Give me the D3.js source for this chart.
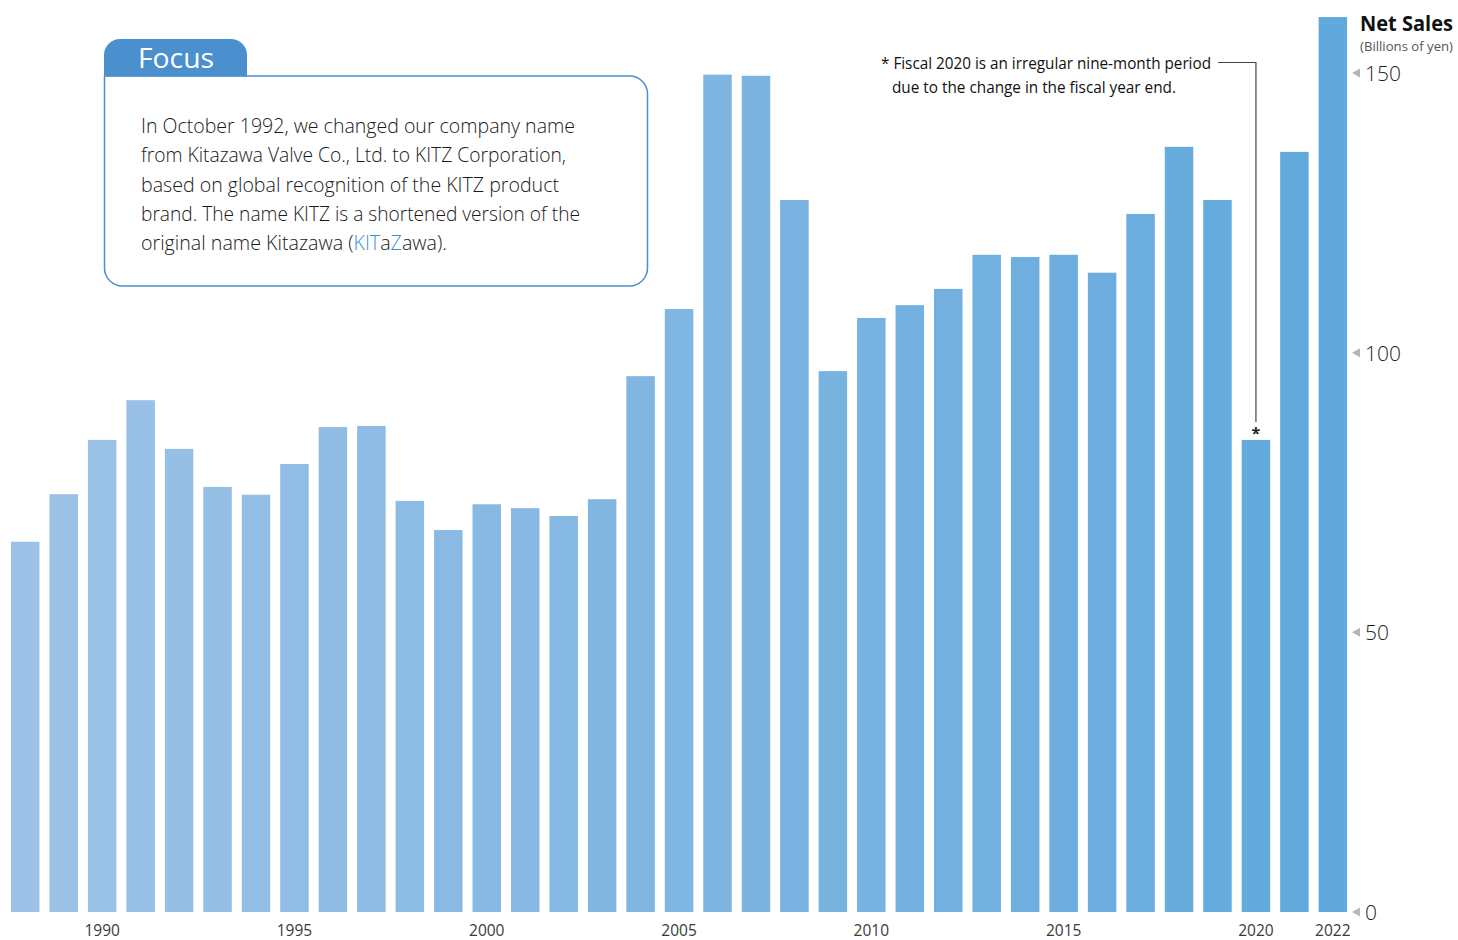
<!DOCTYPE html>
<html><head><meta charset="utf-8">
<script src="https://cdn.jsdelivr.net/npm/d3@7"></script>
<style>
html,body{margin:0;padding:0;background:#fff;}
svg{display:block;}
</style></head>
<body>
<svg id="chart" width="1458" height="940"></svg>
<script>
const years = d3.range(1988, 2023);
const netSales = [66.2,74.7,84.4,91.5,82.8,76.0,74.6,80.1,86.7,86.9,73.5,68.3,72.9,72.2,70.8,73.8,95.8,107.8,149.7,149.5,127.3,96.7,106.2,108.5,111.4,117.5,117.1,117.5,114.3,124.8,136.8,127.3,84.4,135.9,160.0];
const yTicks = [0,50,100,150];
const xTickYears = [1990,1995,2000,2005,2010,2015,2020,2022];
const focusLines = [
  [{t:"In October 1992, we changed our company name"}],
  [{t:"from Kitazawa Valve Co., Ltd. to KITZ Corporation,"}],
  [{t:"based on global recognition of the KITZ product"}],
  [{t:"brand. The name KITZ is a shortened version of the"}],
  [{t:"original name Kitazawa ("},{t:"KIT",c:"#3a8fd0"},{t:"a"},{t:"Z",c:"#3a8fd0"},{t:"awa)."}]
];
const focusWidths = [434,425,418,439,306];
const noteLines = ["* Fiscal 2020 is an irregular nine-month period","due to the change in the fiscal year end."];

const svg = d3.select("#chart");
const font = "'Open Sans', 'Noto Sans', sans-serif";

const x = d3.scaleBand().domain(years).range([11, 1347.1]).paddingInner(0.259).paddingOuter(0);
const y = d3.scaleLinear().domain([0,150]).range([912, 73]);
const col = d3.scaleLinear().domain([0, years.length-1]).range(["#9ec2e7","#61a9dc"]).interpolate(d3.interpolateRgb);

svg.append("g").selectAll("rect").data(netSales).join("rect")
  .attr("x",(d,i)=>x(years[i]))
  .attr("y",d=>y(d))
  .attr("width",x.bandwidth())
  .attr("height",d=>y(0)-y(d))
  .attr("fill",(d,i)=>col(i));

// y axis ticks (right side)
const yg = svg.append("g");
yTicks.forEach(v=>{
  const yy = y(v);
  yg.append("path").attr("d",`M1352,${yy} L1360,${yy-4.5} L1360,${yy+4.5} Z`).attr("fill","#b5b5b5");
  yg.append("text").attr("x",1365).attr("y",yy+8).attr("font-family",font).attr("font-size",21)
    .attr("font-weight",300).attr("fill","#1e1e1e").text(v);
});

// x labels
const xg = svg.append("g");
xTickYears.forEach(yr=>{
  xg.append("text").attr("x",x(yr)+x.bandwidth()/2).attr("y",936).attr("text-anchor","middle")
    .attr("font-family",font).attr("font-size",15.5).attr("fill","#3a3a3a").text(yr);
});

// Axis title
svg.append("text").attr("x",1360).attr("y",31).attr("font-family",font).attr("font-size",21)
  .attr("font-weight",700).attr("fill","#111").attr("textLength",93).attr("lengthAdjust","spacingAndGlyphs").text("Net Sales");
svg.append("text").attr("x",1360).attr("y",51).attr("font-family",font).attr("font-size",13)
  .attr("fill","#555").attr("textLength",93).attr("lengthAdjust","spacingAndGlyphs").text("(Billions of yen)");

// Note
svg.append("text").attr("x",881).attr("y",69).attr("font-family",font).attr("font-size",16)
  .attr("fill","#111").attr("textLength",330).attr("lengthAdjust","spacingAndGlyphs").text(noteLines[0]);
svg.append("text").attr("x",892).attr("y",93).attr("font-family",font).attr("font-size",16)
  .attr("fill","#111").attr("textLength",284).attr("lengthAdjust","spacingAndGlyphs").text(noteLines[1]);
const i2020 = years.indexOf(2020);
const cx2020 = x(2020)+x.bandwidth()/2;
svg.append("path").attr("d",`M1218,62.5 H${cx2020} V${y(netSales[i2020])-18}`)
  .attr("fill","none").attr("stroke","#444").attr("stroke-width",1.2);
svg.append("text").attr("x",cx2020).attr("y",y(netSales[i2020])-1).attr("text-anchor","middle")
  .attr("font-family",font).attr("font-size",16).attr("font-weight",700).attr("fill","#222").text("*");

// Focus box
const bx=104.5, by=76, bw=543, bh=210, r=18;
svg.append("path").attr("d",`M${bx},${by} H${bx+bw-r} A${r},${r} 0 0 1 ${bx+bw},${by+r} V${by+bh-r} A${r},${r} 0 0 1 ${bx+bw-r},${by+bh} H${bx+r} A${r},${r} 0 0 1 ${bx},${by+bh-r} Z`)
  .attr("fill","#fff").attr("stroke","#4a8fce").attr("stroke-width",1.5);
const tx0=104, tx1=247, ty0=39, ty1=76.5, tr=16;
svg.append("path").attr("d",`M${tx0},${ty1} V${ty0+tr} A${tr},${tr} 0 0 1 ${tx0+tr},${ty0} H${tx1-tr} A${tr},${tr} 0 0 1 ${tx1},${ty0+tr} V${ty1} Z`)
  .attr("fill","#4a8fce");
svg.append("text").attr("x",138).attr("y",68).attr("font-family",font).attr("font-size",27)
  .attr("fill","#fff").attr("textLength",76).attr("lengthAdjust","spacingAndGlyphs").text("Focus");

const fg = svg.append("g");
focusLines.forEach((parts,i)=>{
  const t = fg.append("text").attr("x",141).attr("y",133+i*29.3).attr("font-family",font)
    .attr("font-size",21).attr("font-weight",300).attr("fill","#1a1a1a")
    .attr("textLength",focusWidths[i]).attr("lengthAdjust","spacingAndGlyphs");
  parts.forEach(p=>{ const s=t.append("tspan").text(p.t); if(p.c) s.attr("fill",p.c); });
});
</script>
</body></html>
